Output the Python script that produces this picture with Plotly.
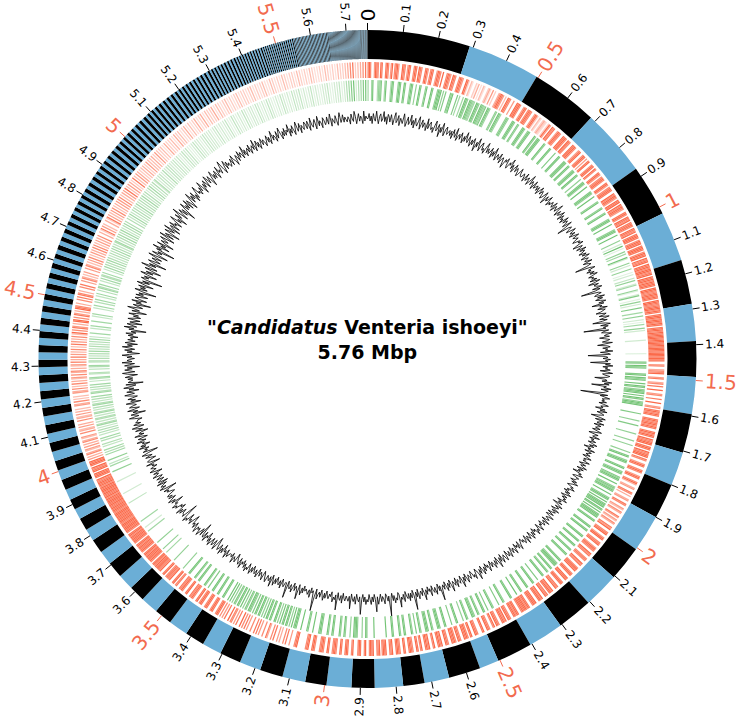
import math
import plotly.graph_objects as go

# ---------------- data ----------------
GENOME_KB = 5760

# contig lengths (kb), in drawing order; colours alternate black / blue
CONTIG_KB = [290, 205, 190, 190, 145, 140, 125, 105, 100, 105,
             110, 95, 100, 105, 100, 100, 100, 100, 100, 55,
             90, 70, 60, 80, 65, 70, 60, 65, 65, 60,
             60, 55, 55, 55, 50, 50, 45, 45, 45, 40,
             40, 35, 35, 30, 30, 30, 30, 28, 27, 27,
             26, 26, 25, 25, 24, 24, 23, 23, 22, 22,
             21, 21, 20, 20, 19, 19, 18, 18, 17, 17,
             16, 16, 15, 15, 15, 14, 14, 14, 13, 13,
             13, 13, 12, 12, 12, 12, 11, 11, 11, 11,
             10, 10, 10, 10, 10, 10, 10, 10, 10, 10, 10,
             9, 9, 9, 9, 9, 9, 9, 9, 9, 9, 9, 9,
             8, 8, 8, 8, 8, 8, 8, 8, 8, 8, 8, 8, 8, 8,
             7, 7, 7, 7, 7, 7, 7, 7, 7, 7, 7, 7, 7, 7, 7, 7,
             6, 6, 6, 6, 6, 6, 6, 6, 6, 6, 6, 6, 6, 6, 6, 6, 6, 6,
             5, 5, 5, 5, 5, 5, 5, 5, 5, 5, 5, 5, 5, 5, 5, 5,
             4, 4, 4, 4, 4, 4, 4, 4, 4, 4, 4, 4, 4, 4, 4, 4, 4, 4, 4, 4,
             3, 3, 3, 3, 3, 3, 3, 3, 3, 3, 3, 3, 3, 3, 3,
             3, 3, 3, 3, 3, 3, 3, 3, 3, 3, 3, 3, 3, 3, 3,
             2, 2, 2, 2, 2, 2, 2, 2, 2, 2, 2, 2, 2, 2, 2, 2, 2, 2, 2, 2, 2, 2, 2, 2, 2,
             2, 2, 2, 2, 2, 2, 2, 2, 2, 2, 2, 2, 2, 2, 2, 2, 2, 2, 2, 2, 2, 2, 2, 2, 2,
             1.5, 1.5, 1.5, 1.5, 1.5, 1.5, 1.5, 1.5, 1.5, 1.5, 1.5, 1.5, 1.5, 1.5, 1.5,
             1.5, 1.5, 1.5, 1.5, 1.5, 1.5, 1.5, 1.5, 1.5, 1.5, 1.5, 1.5, 1.5, 1.5, 1.5,
             1.5, 1.5, 1.5, 1.5, 1.5, 1.5, 1.5, 1.5, 1.5, 1.5, 1.5, 1.5, 1.5, 1.5, 1.5,
             1.5, 1.5, 1.5, 1.5, 1.5, 1.5, 1.5, 1.5, 1.5, 1.5, 1.5, 1.5, 1.5, 1.5, 1.5,
             1, 1, 1, 1, 1, 1, 1, 1, 1, 1, 1, 1, 1, 1, 1, 1, 1, 1, 1, 1]
CONTIG_COLORS = ["#000000", "#6baed6"]

TICK_MBP = [0.0, 0.1, 0.2, 0.3, 0.4, 0.5, 0.6, 0.7, 0.8, 0.9,
            1.0, 1.1, 1.2, 1.3, 1.4, 1.5, 1.6, 1.7, 1.8, 1.9,
            2.0, 2.1, 2.2, 2.3, 2.4, 2.5, 2.6, 2.7, 2.8, 2.9,
            3.0, 3.1, 3.2, 3.3, 3.4, 3.5, 3.6, 3.7, 3.8, 3.9,
            4.0, 4.1, 4.2, 4.3, 4.4, 4.5, 4.6, 4.7, 4.8, 4.9,
            5.0, 5.1, 5.2, 5.3, 5.4, 5.5, 5.6, 5.7]
TICK_LABELS = ["0", "0.1", "0.2", "0.3", "0.4", "0.5", "0.6", "0.7", "0.8", "0.9",
               "1", "1.1", "1.2", "1.3", "1.4", "1.5", "1.6", "1.7", "1.8", "1.9",
               "2", "2.1", "2.2", "2.3", "2.4", "2.5", "2.6", "2.7", "2.8", "2.9",
               "3", "3.1", "3.2", "3.3", "3.4", "3.5", "3.6", "3.7", "3.8", "3.9",
               "4", "4.1", "4.2", "4.3", "4.4", "4.5", "4.6", "4.7", "4.8", "4.9",
               "5", "5.1", "5.2", "5.3", "5.4", "5.5", "5.6", "5.7"]
MAJOR_LABELS = ["0", "0.5", "1", "1.5", "2", "2.5", "3", "3.5", "4", "4.5", "5", "5.5"]

# gene density per 4 kb bin (0 = none ... 9 = dense), forward / reverse strand
GENE_BIN_KB = 4
FWD_GENES = [int(c) for c in (
    "89700698709800897069" "07896009870698007980" "98700896079800698709"
    "00798609870079860098" "30420031502042003520" "60300579860409870060"
    "09897006980798700698" "30420353203960978006" "98700989709870098970"
    "06890079806089007980" "97008960789700896078" "98009798609890979860"
    "08970987908897098790" "89980798908998079890" "97890989799789098979"
    "89809987898980998789" "97980899799798089979" "89998999898999899989"
    "79006800577900680057" "08009006700800900670" "89798008978979800897"
    "98097899089809789908" "70069800797006980079" "50056008705005600870"
    "06407500860640750086" "90078900699007890069" "87009780078700978007"
    "98900798009890079800" "87900979808790097980" "09897008979989700897"
    "98007890979800789097" "00789009800078900980" "79890078907989007890"
    "09798009700979800970" "89007898008900789800" "97800989709780098970"
    "09700898000970089800" "89007987008900798700" "07980098700000098700"
    "06008070050600807005" "80070060808007006080" "70900806077090080607"
    "08970089700897008970" "98007978009800797800" "87098009788709800978"
    "98979807989897980798" "89798079898979807989" "98997898989899789898"
    "89899897988989989798" "98790898909879089890" "60507504606050750460"
    "07054060500705406050" "40065070404006507040" "70504607057050460705"
    "08060507040806050704" "90708605099070860509" "87050070808705007080"
    "06075040600607504060" "70406050707040605070" "05038060400503806040"
    "60704050606070405060" "80406050308040605030" "40503060404050306040"
    "30402050303040205030" "40203050204020305020" "30502040303050204030"
    "20304020302030402030" "30203040203020304020" "20403020302040302030"
    "30204030203020403020" "20302040302030204030" "30405070803040507080")]
REV_GENES = [int(c) for c in (
    "60069000577800690005" "98000798009800079800" "70098000790009800079"
    "89070800087900080600" "60987098766098709876" "80986000077098600007"
    "87000897008700089700" "79800009708980000970" "00098000080009800008"
    "98009800079800980007" "00897009000089700900" "00790000790007900007"
    "98009000079800900007" "00309020070600930007" "03007002030040700360"
    "00720038002070300800" "06007003020600703000" "00003000000000020000"
    "00890978000089097800" "90980798909098079890" "00000800000700080000"
    "00700000700070000070" "08900798000890079800" "87980090078798009007"
    "98090898909809089890" "08900008900890000890" "00890009800089000980"
    "00008900799800890079" "00089000080008900008" "90000890009000089000"
    "00790008000079000800" "89000790078900079007" "00009800080000980008"
    "98000790089800079008" "00790000890079000089" "00009000000000900000"
    "89007000798900700079" "00790000890079000089" "80000900088000090008"
    "98090708909809070890" "08908908070890890807" "89078070908907807090"
    "90008900089000890008" "00790000890079000089" "00000700000000070000"
    "00006000700000070000" "00000006000300000600" "00000000000000040000"
    "00003000000000030000" "00007000060400700006" "05060040500506004050"
    "50406504055040650405" "06504050600650405060" "04056004500405600450"
    "50405060405040506040" "06000406000600040600" "00406005060040600506"
    "50600406055060040605" "05060504050506050405" "60405060506040506050"
    "05040604050504060405" "05060405030506040503" "50304040305030404030"
    "30403040203040304020" "20304030302030403030" "30203040203020304020"
    "20403020302040302030" "30204030203020403020" "20302040302030204030"
    "30402030203040203020" "20303040202030304020" "30506080903050608090")]

# GC content (%) per 4 kb window
GC_BIN_KB = 4
GC_PERCENT = [
    45, 47, 44, 46, 43, 47, 45, 44, 48, 45, 43, 46, 47, 44, 45, 48, 44, 46, 43, 47,
    46, 44, 47, 45, 43, 46, 48, 44, 45, 47, 43, 46, 45, 44, 48, 46, 43, 45, 47, 44,
    45, 48, 44, 46, 43, 47, 45, 44, 46, 48, 43, 45, 47, 44, 46, 45, 43, 48, 44, 46,
    47, 44, 45, 43, 46, 48, 44, 45, 47, 42, 46, 44, 48, 45, 43, 46, 47, 44, 45, 46,
    44, 46, 43, 47, 45, 44, 48, 43, 45, 46, 44, 47, 45, 43, 46, 44, 48, 45, 44, 47,
    45, 43, 46, 44, 47, 45, 42, 46, 44, 48, 45, 43, 46, 47, 44, 45, 43, 46, 48, 44,
    46, 44, 45, 47, 43, 46, 44, 48, 45, 43, 46, 45, 44, 47, 43, 45, 46, 44, 42, 46,
    45, 47, 44, 43, 46, 45, 48, 44, 46, 43, 45, 47, 44, 46, 45, 43, 44, 47, 45, 44,
    44, 46, 45, 43, 47, 44, 45, 46, 43, 45, 48, 44, 46, 45, 43, 47, 44, 45, 46, 44,
    46, 43, 45, 47, 44, 46, 45, 43, 44, 47, 45, 42, 46, 44, 45, 47, 43, 45, 44, 46,
    45, 44, 47, 43, 46, 45, 44, 48, 45, 43, 46, 44, 45, 47, 43, 46, 44, 45, 43, 47,
    44, 46, 45, 43, 47, 44, 40, 45, 46, 44, 43, 47, 45, 44, 46, 43, 45, 47, 44, 45,
    46, 44, 43, 46, 45, 47, 44, 42, 46, 45, 43, 47, 44, 46, 45, 43, 46, 44, 47, 45,
    43, 46, 45, 44, 47, 43, 45, 46, 44, 39, 45, 47, 44, 45, 43, 46, 44, 47, 45, 43,
    45, 44, 46, 43, 47, 45, 42, 46, 44, 45, 47, 43, 46, 44, 38, 45, 46, 44, 43, 47,
    44, 46, 43, 45, 47, 44, 46, 41, 45, 44, 47, 43, 46, 45, 44, 42, 46, 45, 43, 47,
    45, 43, 46, 44, 40, 45, 47, 43, 46, 44, 45, 36, 46, 44, 43, 47, 45, 44, 46, 42,
    44, 46, 45, 43, 47, 44, 41, 45, 46, 43, 45, 44, 47, 42, 45, 46, 37, 44, 45, 43,
    46, 44, 45, 38, 46, 44, 47, 43, 45, 44, 46, 42, 45, 47, 43, 44, 46, 45, 40, 44,
    45, 43, 47, 44, 46, 39, 45, 44, 47, 43, 46, 45, 44, 35, 46, 43, 45, 47, 44, 45,
    44, 46, 43, 45, 47, 44, 45, 42, 46, 44, 47, 43, 45, 46, 44, 41, 45, 47, 43, 46,
    45, 44, 47, 43, 46, 45, 44, 46, 43, 45, 47, 44, 42, 46, 45, 44, 47, 43, 45, 44,
    46, 43, 45, 47, 44, 46, 42, 45, 44, 47, 43, 46, 45, 44, 46, 43, 45, 47, 44, 45,
    44, 47, 45, 43, 46, 44, 45, 47, 43, 46, 44, 45, 42, 46, 45, 47, 44, 43, 46, 45,
    45, 43, 46, 44, 47, 45, 44, 43, 46, 45, 47, 44, 45, 43, 46, 44, 47, 45, 43, 46,
    44, 46, 45, 47, 43, 45, 44, 46, 42, 45, 47, 44, 46, 45, 43, 47, 44, 46, 45, 43,
    46, 44, 43, 47, 45, 44, 46, 45, 43, 47, 44, 45, 46, 43, 45, 44, 47, 45, 43, 46,
    45, 47, 44, 45, 43, 46, 44, 47, 45, 43, 46, 45, 44, 47, 43, 45, 46, 44, 45, 43,
    44, 45, 47, 43, 46, 44, 45, 43, 47, 45, 44, 46, 43, 45, 47, 44, 46, 45, 43, 47,
    46, 44, 45, 47, 43, 46, 44, 48, 45, 43, 46, 44, 47, 45, 44, 46, 43, 45, 47, 44,
    45, 43, 46, 44, 47, 45, 43, 46, 44, 48, 45, 44, 43, 47, 45, 46, 44, 43, 46, 45,
    44, 47, 45, 43, 46, 44, 48, 45, 43, 46, 45, 44, 47, 43, 46, 45, 44, 48, 45, 43,
    46, 44, 47, 45, 43, 46, 44, 45, 50, 44, 46, 43, 45, 47, 44, 46, 45, 43, 47, 44,
    45, 43, 46, 44, 48, 45, 43, 46, 44, 45, 47, 43, 46, 44, 51, 45, 43, 46, 44, 47,
    44, 46, 45, 43, 47, 44, 46, 45, 49, 44, 43, 46, 45, 47, 44, 46, 43, 45, 52, 44,
    46, 44, 43, 47, 45, 44, 46, 43, 45, 47, 44, 50, 45, 43, 46, 44, 47, 45, 43, 46,
    45, 47, 44, 46, 43, 45, 51, 44, 46, 45, 43, 47, 44, 46, 45, 43, 49, 44, 46, 45,
    44, 46, 45, 43, 47, 44, 46, 45, 43, 50, 44, 46, 45, 47, 43, 45, 44, 46, 45, 43,
    46, 44, 47, 45, 43, 46, 44, 45, 47, 43, 46, 52, 44, 45, 43, 47, 44, 46, 45, 44,
    45, 43, 46, 44, 47, 45, 43, 49, 45, 44, 46, 43, 45, 47, 44, 46, 45, 43, 50, 44,
    44, 46, 45, 43, 47, 44, 46, 45, 43, 46, 44, 47, 45, 43, 48, 44, 46, 45, 44, 47,
    46, 44, 43, 47, 45, 44, 46, 43, 45, 47, 44, 46, 45, 43, 46, 44, 47, 45, 43, 46,
    45, 47, 44, 46, 43, 45, 44, 47, 43, 46, 45, 44, 42, 46, 45, 44, 47, 43, 45, 44,
    44, 45, 46, 43, 47, 44, 45, 42, 46, 44, 47, 43, 45, 46, 44, 41, 45, 47, 43, 45,
    46, 43, 45, 47, 44, 46, 42, 45, 44, 47, 43, 46, 45, 40, 46, 43, 45, 47, 44, 45,
    44, 47, 45, 43, 46, 44, 45, 41, 43, 46, 44, 45, 42, 46, 45, 47, 44, 39, 46, 45,
    45, 43, 46, 44, 47, 42, 44, 43, 46, 45, 47, 44, 45, 41, 46, 44, 47, 45, 43, 46,
    44, 46, 45, 42, 43, 45, 44, 46, 40, 45, 47, 44, 46, 45, 43, 47, 42, 46, 45, 43,
    46, 44, 43, 47, 45, 44, 46, 42, 45, 47, 44, 45, 46, 43, 45, 44, 47, 41, 45, 46,
    45, 42, 44, 46, 43, 45, 47, 44, 40, 46, 44, 45, 43, 47, 44, 46, 42, 45, 44, 47,
    43, 45, 46, 42, 44, 47, 43, 45, 44, 41, 46, 43, 45, 47, 42, 44, 46, 43, 45, 44,
    44, 42, 45, 47, 43, 44, 46, 40, 45, 43, 47, 44, 42, 46, 45, 43, 44, 47, 41, 45,
    43, 46, 44, 42, 45, 47, 43, 44, 46, 41, 45, 43, 47, 44, 42, 46, 39, 45, 44, 43,
    45, 43, 46, 44, 41, 45, 47, 42, 44, 46, 43, 45, 40, 46, 44, 42, 47, 43, 45, 44,
    42, 45, 43, 47, 44, 40, 45, 43, 46, 42, 44, 47, 43, 45, 41, 46, 44, 42, 45, 43,
    44, 41, 45, 43, 46, 42, 44, 38, 45, 43, 47, 42, 44, 46, 40, 45, 43, 41, 46, 44,
    41, 44, 42, 46, 43, 39, 45, 42, 44, 47, 41, 43, 45, 38, 44, 42, 46, 40, 43, 45,
    43, 40, 45, 42, 44, 37, 43, 46, 41, 44, 42, 45, 39, 43, 46, 41, 44, 36, 43, 45,
    42, 44, 39, 43, 46, 41, 44, 38, 42, 45, 40, 43, 47, 41, 44, 37, 43, 45, 40, 42,
    44, 40, 43, 46, 38, 42, 45, 41, 43, 36, 44, 42, 46, 39, 43, 41, 45, 38, 42, 44,
    41, 43, 45, 39, 42, 46, 40, 44, 42, 38, 45, 43, 41, 46, 39, 43, 44, 40, 45, 42,
    43, 40, 44, 46, 41, 43, 39, 45, 42, 44, 47, 40, 43, 45, 41, 44, 38, 43, 46, 42,
    44, 42, 46, 41, 45, 43, 40, 44, 47, 42, 45, 43, 46, 41, 44, 42, 45, 47, 43, 44,
    42, 45, 43, 47, 44, 41, 45, 43, 46, 44, 42, 47, 45, 43, 46, 44, 41, 45, 47, 43,
    45, 43, 46, 44, 42, 47, 44, 45, 43, 46, 48, 44, 42, 45, 47, 43, 46, 44, 45, 43,
    44, 46, 43, 47, 45, 44, 42, 46, 45, 43, 47, 44, 46, 45, 43, 48, 44, 46, 43, 45,
    46, 44, 47, 43, 45, 46, 44, 48, 43, 45, 47, 44, 46, 43, 45, 47, 44, 46, 45, 43,
    45, 47, 44, 46, 43, 45, 48, 44, 46, 45, 43, 47, 44, 46, 48, 45, 43, 46, 44, 47,
    44, 46, 45, 48, 43, 46, 44, 47, 45, 43, 46, 48, 44, 45, 47, 43, 46, 45, 44, 47,
    46, 44, 47, 45, 43, 48, 45, 44, 46, 47, 43, 45, 48, 44, 46, 45, 43, 47, 46, 44,
    45, 47, 44, 46, 48, 43, 46, 45, 44, 47, 45, 43, 46, 48, 44, 45, 47, 44, 46, 45,
    44, 46, 45, 43, 47, 45, 44, 48, 46, 43, 45, 47, 44, 46, 45, 43, 48, 44, 46, 45]

TITLE_NAME = "Candidatus"
TITLE_REST = "Venteria ishoeyi"
TITLE_SIZE = "5.76 Mbp"

# ---------------- layout constants ----------------
W, H = 738, 716
CX, CY = 367.5, 359.0          # circle centre in px (from top-left)
R_MAX = 345.0                   # radial axis range == px radius
R_CONTIG = (300, 329)
R_FWD = (281, 297)
R_REV = (258, 279)
GC_BASE, GC_SCALE, GC_MID = 238.0, 2.5, 44.0
TICK_R = (329, 336)
LABEL_R0 = 338
FONT = "DejaVu Sans"
RED = (251, 106, 74)
GREEN = (116, 196, 118)
LABEL_ORANGE = "#f26b4f"


def kb2deg(kb):
    return kb * 360.0 / GENOME_KB


fig = go.Figure()

# contigs
starts, acc = [], 0.0
for L in CONTIG_KB:
    starts.append(acc)
    acc += L
fig.add_trace(go.Barpolar(
    theta=[kb2deg(s + L / 2) for s, L in zip(starts, CONTIG_KB)],
    width=[kb2deg(L) for L in CONTIG_KB],
    base=[R_CONTIG[0]] * len(CONTIG_KB),
    r=[R_CONTIG[1] - R_CONTIG[0]] * len(CONTIG_KB),
    marker=dict(color=[CONTIG_COLORS[i % 2] for i in range(len(CONTIG_KB))],
                line=dict(width=0)),
    hoverinfo="skip", showlegend=False))


def gene_ring(vals, rng, rgb):
    th, col = [], []
    for i, v in enumerate(vals):
        if v > 0:
            th.append(kb2deg((i + 0.5) * GENE_BIN_KB))
            col.append("rgba(%d,%d,%d,%.3f)" % (rgb[0], rgb[1], rgb[2], v / 9.0))
    return go.Barpolar(theta=th, width=[kb2deg(GENE_BIN_KB)] * len(th),
                       base=[rng[0]] * len(th), r=[rng[1] - rng[0]] * len(th),
                       marker=dict(color=col, line=dict(width=0)),
                       hoverinfo="skip", showlegend=False)


fig.add_trace(gene_ring(FWD_GENES, R_FWD, RED))
fig.add_trace(gene_ring(REV_GENES, R_REV, GREEN))

# GC line
gc_r = [GC_BASE + (g - GC_MID) * GC_SCALE for g in GC_PERCENT]
gc_t = [kb2deg((i + 0.5) * GC_BIN_KB) for i in range(len(GC_PERCENT))]
fig.add_trace(go.Scatterpolar(r=gc_r + gc_r[:1], theta=gc_t + gc_t[:1], mode="lines",
                              line=dict(color="black", width=0.8),
                              hoverinfo="skip", showlegend=False))

# tick marks
for major in (False, True):
    rr, tt = [], []
    for v, lab in zip(TICK_MBP, TICK_LABELS):
        is_major = lab in MAJOR_LABELS and lab != "0"
        if is_major != major:
            continue
        d = kb2deg(v * 1000)
        rr += [TICK_R[0], TICK_R[1], None]
        tt += [d, d, None]
    fig.add_trace(go.Scatterpolar(r=rr, theta=tt, mode="lines", cliponaxis=False,
                                  line=dict(color=LABEL_ORANGE if major else "black", width=1),
                                  hoverinfo="skip", showlegend=False))

CHAR_W = {".": 0.318}
annotations = []
for v, lab in zip(TICK_MBP, TICK_LABELS):
    big = lab in MAJOR_LABELS
    size = 20 if big else 12
    color = "black" if (not big or lab == "0") else LABEL_ORANGE
    w = sum(CHAR_W.get(c, 0.636) for c in lab) * size
    rc = LABEL_R0 + w / 2
    d = kb2deg(v * 1000)
    a = math.radians(d)
    x = CX + rc * math.sin(a)
    y = CY - rc * math.cos(a)
    ang = d - 90 if d < 180 else d - 270
    annotations.append(dict(x=x / W, y=(H - y) / H, xref="paper", yref="paper",
                            text=lab, showarrow=False, textangle=ang,
                            xanchor="center", yanchor="middle", borderpad=0,
                            font=dict(family=FONT, size=size, color=color)))

annotations.append(dict(
    x=CX / W, y=(H - 339.5) / H, xref="paper", yref="paper", showarrow=False,
    xanchor="center", yanchor="middle",
    text='<b>"<i>%s</i> %s"</b><br><b>%s</b>' % (TITLE_NAME, TITLE_REST, TITLE_SIZE),
    font=dict(family=FONT, size=19, color="black")))

fig.update_layout(
    width=W, height=H, margin=dict(l=0, r=0, t=0, b=0, pad=0),
    paper_bgcolor="white", plot_bgcolor="white", showlegend=False,
    annotations=annotations,
    polar=dict(
        domain=dict(x=[(CX - R_MAX) / W, (CX + R_MAX) / W],
                    y=[(H - CY - R_MAX) / H, (H - CY + R_MAX) / H]),
        bgcolor="white", barmode="overlay", bargap=0, hole=0,
        radialaxis=dict(range=[0, R_MAX], visible=False, showgrid=False),
        angularaxis=dict(visible=False, rotation=90, direction="clockwise",
                         showgrid=False)))

fig.write_html("out.html",
               config={"displayModeBar": False},
               post_script="document.body.style.margin='0px';"
                           "document.body.style.overflow='hidden';")
